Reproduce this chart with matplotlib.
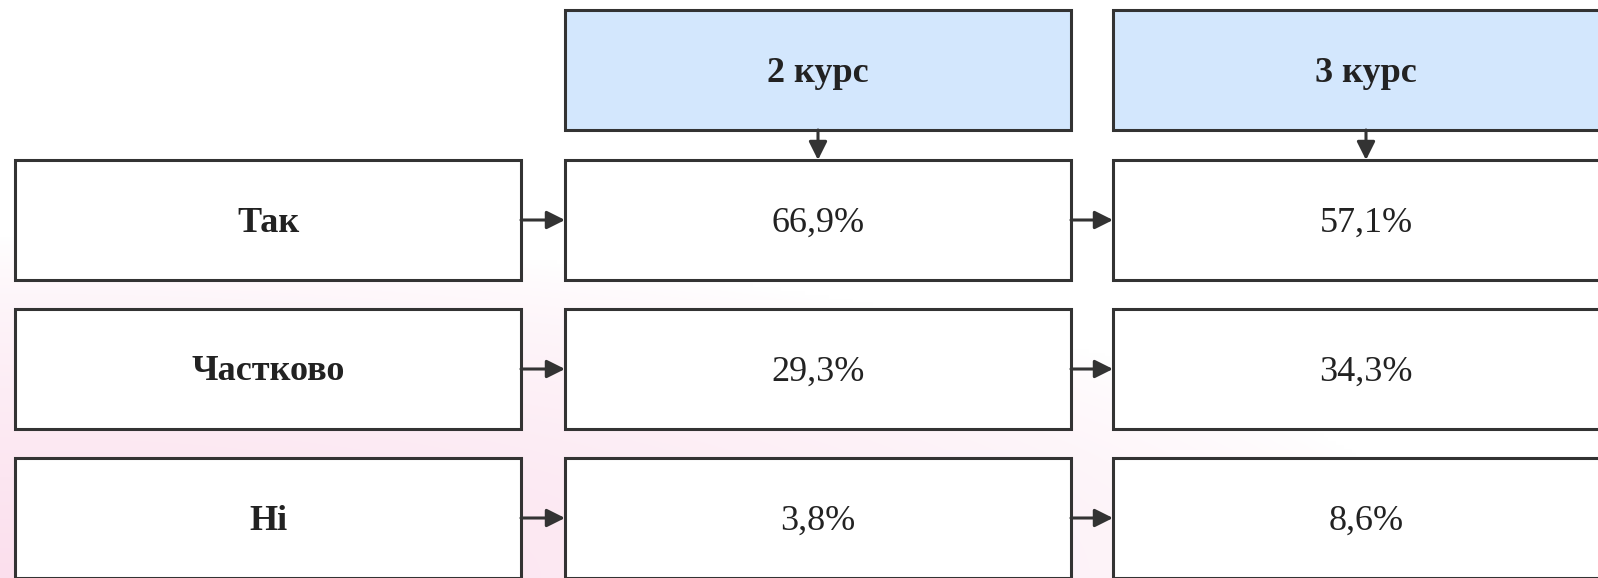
import numpy as np
import matplotlib
matplotlib.use("Agg")
from matplotlib import pyplot as plt
from matplotlib.patches import Rectangle

# data
answers = ["Так", "Частково", "Ні"]
courses = ["2 курс", "3 курс"]
course2 = [66.9, 29.3, 3.8]
course3 = [57.1, 34.3, 8.6]

W, H = 1598, 578
fig = plt.figure(figsize=(W / 100, H / 100), dpi=100)
ax = fig.add_axes([0, 0, 1, 1])
ax.set_xlim(0, W)
ax.set_ylim(H, 0)
ax.axis("off")

# pink haze in the lower left corner
xx, yy = np.meshgrid(np.linspace(0, W, 400), np.linspace(0, H, 150))
d = np.sqrt((xx / 1450.0) ** 2 + ((H - yy) / 340.0) ** 2)
t = np.clip(1 - d, 0, 1) ** 0.7
white = np.array([1.0, 1.0, 1.0])
pink = np.array([0.985, 0.875, 0.93])
bg = white + (pink - white) * t[..., None]
ax.imshow(bg, extent=[0, W, H, 0], aspect="auto", zorder=0, interpolation="bilinear")

col_x = [15, 565, 1113]
box_w = 506
head_y = 10
row_y = [160, 309, 458]
box_h = 120
edge = "#333333"
lw = 2.2
serif = ["Liberation Serif", "DejaVu Serif"]


def box(x, y, text, fc="white", bold=False):
    ax.add_patch(Rectangle((x, y), box_w, box_h, facecolor=fc, edgecolor=edge,
                           linewidth=lw, zorder=2))
    ax.text(x + box_w / 2, y + box_h / 2 + 3, text, ha="center", va="center",
            fontsize=26, family=serif, color="#222222",
            fontweight="bold" if bold else "normal", zorder=3)


def arrow(x0, y0, x1, y1):
    ax.annotate("", xy=(x1, y1), xytext=(x0, y0),
                arrowprops=dict(arrowstyle="-|>,head_length=1.1,head_width=0.55",
                                color=edge, lw=lw, shrinkA=0, shrinkB=0),
                zorder=4)


for j, c in enumerate(courses):
    x = col_x[j + 1]
    box(x, head_y, c, fc="#d3e7fd", bold=True)
    arrow(x + box_w / 2, head_y + box_h, x + box_w / 2, row_y[0])

for i, a in enumerate(answers):
    y = row_y[i]
    box(col_x[0], y, a, bold=True)
    box(col_x[1], y, f"{course2[i]:.1f}%".replace(".", ","))
    box(col_x[2], y, f"{course3[i]:.1f}%".replace(".", ","))
    cy = y + box_h / 2
    arrow(col_x[0] + box_w, cy, col_x[1], cy)
    arrow(col_x[1] + box_w, cy, col_x[2], cy)

fig.savefig("out.png", dpi=100)
